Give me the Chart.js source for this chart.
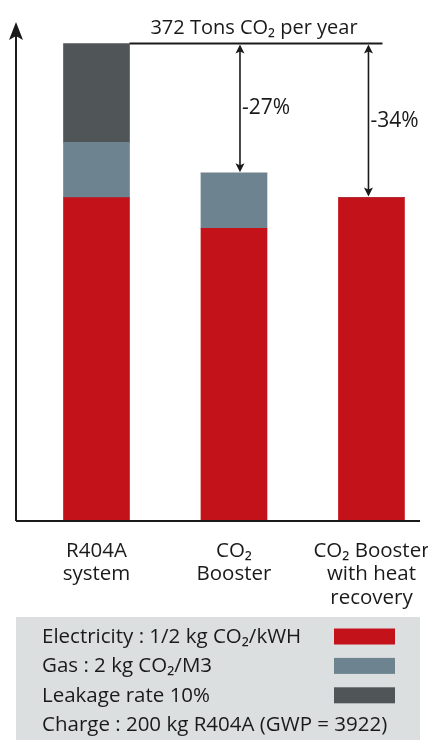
<!DOCTYPE html>
<html>
<head>
<meta charset="utf-8">
<script src="https://cdn.jsdelivr.net/npm/chart.js@4.4.1/dist/chart.umd.min.js"></script>
<style>
  html, body { margin: 0; padding: 0; background: #ffffff; }
  #wrap { width: 428px; height: 740px; position: relative; }
</style>
</head>
<body>
<div id="wrap"><canvas id="c"></canvas></div>
<script>
// values (tons CO2 per year)
var categories = [['R404A', 'system'], ['CO\u2082', 'Booster'], ['CO\u2082 Booster', 'with heat', 'recovery']];
var electricity = [252, 228, 252];
var gas = [43, 43, 0];
var leakage = [77, 0, 0];
var reductions = ['', '-27%', '-34%'];
var seriesLabels = ['Electricity : 1/2 kg CO\u2082/kWH', 'Gas : 2 kg CO\u2082/M3', 'Leakage rate 10%'];
var noteLabel = 'Charge : 200 kg R404A (GWP = 3922)';
var totalLabel = '372 Tons CO\u2082 per year';

var FONT = '"Open Sans", "Noto Sans", sans-serif';
var INK = '#1a1a1a';

function points(arr) {
    return arr.map(function (v, i) { return { x: i, y: v }; });
}

var overlay = {
    id: 'overlay',
    afterDatasetsDraw: function (chart) {
        var ctx = chart.ctx;
        var area = chart.chartArea;
        var xs = chart.scales.x;
        var ys = chart.scales.y;
        var totals = electricity.map(function (v, i) { return v + gas[i] + leakage[i]; });

        ctx.save();
        ctx.strokeStyle = INK;
        ctx.fillStyle = INK;

        // axes
        ctx.lineWidth = 2;
        ctx.beginPath();
        ctx.moveTo(area.left, area.bottom);
        ctx.lineTo(area.right, area.bottom);
        ctx.moveTo(area.left, area.bottom);
        ctx.lineTo(area.left, area.top + 8);
        ctx.stroke();
        // arrow head on y axis
        ctx.beginPath();
        ctx.moveTo(area.left, area.top - 1);
        ctx.lineTo(area.left + 7, area.top + 17);
        ctx.lineTo(area.left, area.top + 13);
        ctx.lineTo(area.left - 7, area.top + 17);
        ctx.closePath();
        ctx.fill();

        // reference line at the first bar's total
        var meta = chart.getDatasetMeta(0);
        var barRight = meta.data[0].x + meta.data[0].width / 2;
        var topY = ys.getPixelForValue(totals[0]);
        var lastX = xs.getPixelForValue(totals.length - 1) - 3;
        ctx.lineWidth = 2;
        ctx.beginPath();
        ctx.moveTo(barRight, topY);
        ctx.lineTo(lastX + 14, topY);
        ctx.stroke();

        ctx.font = '20px ' + FONT;
        ctx.textAlign = 'center';
        ctx.textBaseline = 'alphabetic';
        ctx.fillText(totalLabel, 254, topY - 10);

        // double arrows with the reductions
        ctx.lineWidth = 1.6;
        for (var i = 1; i < totals.length; i++) {
            var ax = xs.getPixelForValue(i) + (i === totals.length - 1 ? -3 : 6);
            var y1 = topY + 1;
            var y2 = ys.getPixelForValue(totals[i]) - 1;
            ctx.beginPath();
            ctx.moveTo(ax, y1 + 6);
            ctx.lineTo(ax, y2 - 6);
            ctx.stroke();
            ctx.beginPath();
            ctx.moveTo(ax, y1);
            ctx.lineTo(ax + 4.5, y1 + 9);
            ctx.lineTo(ax, y1 + 7);
            ctx.lineTo(ax - 4.5, y1 + 9);
            ctx.closePath();
            ctx.fill();
            ctx.beginPath();
            ctx.moveTo(ax, y2);
            ctx.lineTo(ax + 4.5, y2 - 9);
            ctx.lineTo(ax, y2 - 7);
            ctx.lineTo(ax - 4.5, y2 - 9);
            ctx.closePath();
            ctx.fill();

            ctx.font = '21px ' + FONT;
            ctx.textAlign = 'left';
            ctx.textBaseline = 'middle';
            ctx.fillText(reductions[i], ax + 2, (y1 + y2) / 2);
        }

        // legend box
        ctx.fillStyle = '#dcdfe0';
        ctx.fillRect(area.left, 617, area.right - area.left, 740 - 617);
        var rows = seriesLabels.concat([noteLabel]);
        ctx.font = '20.5px ' + FONT;
        ctx.textAlign = 'left';
        ctx.textBaseline = 'middle';
        for (var r = 0; r < rows.length; r++) {
            var cy = 637 + r * 29.4;
            ctx.fillStyle = INK;
            ctx.fillText(rows[r], 42, cy);
            if (r < chart.data.datasets.length) {
                ctx.fillStyle = chart.data.datasets[r].backgroundColor;
                ctx.fillRect(334, cy - 8.5, 61, 16);
            }
        }
        ctx.restore();
    }
};

new Chart(document.getElementById('c'), {
    type: 'bar',
    data: {
        datasets: [
            { label: seriesLabels[0], data: points(electricity), backgroundColor: '#c4121a' },
            { label: seriesLabels[1], data: points(gas), backgroundColor: '#6d8490' },
            { label: seriesLabels[2], data: points(leakage), backgroundColor: '#505558' }
        ]
    },
    options: {
        responsive: true,
        maintainAspectRatio: false,
        animation: false,
        layout: { padding: { top: 23, left: 16, right: 8, bottom: 0 } },
        datasets: { bar: { barThickness: 66 } },
        plugins: {
            legend: { display: false },
            tooltip: { enabled: false }
        },
        scales: {
            x: {
                type: 'linear',
                stacked: true,
                offset: false,
                min: -0.5855,
                max: 2.353,
                grid: { display: false, drawTicks: false, offset: false },
                border: { display: false },
                afterBuildTicks: function (s) {
                    s.ticks = categories.map(function (c, i) { return { value: i }; });
                },
                afterFit: function (s) {
                    s.height = 219;
                    s.paddingLeft = 0;
                    s.paddingRight = 0;
                },
                ticks: {
                    maxRotation: 0,
                    autoSkip: false,
                    padding: 18,
                    color: INK,
                    font: { family: FONT, size: 20.5, lineHeight: 1.15 },
                    callback: function (v) { return categories[v] || ''; }
                }
            },
            y: {
                stacked: true,
                display: false,
                min: 0,
                max: 388
            }
        }
    },
    plugins: [overlay]
});
</script>
</body>
</html>
